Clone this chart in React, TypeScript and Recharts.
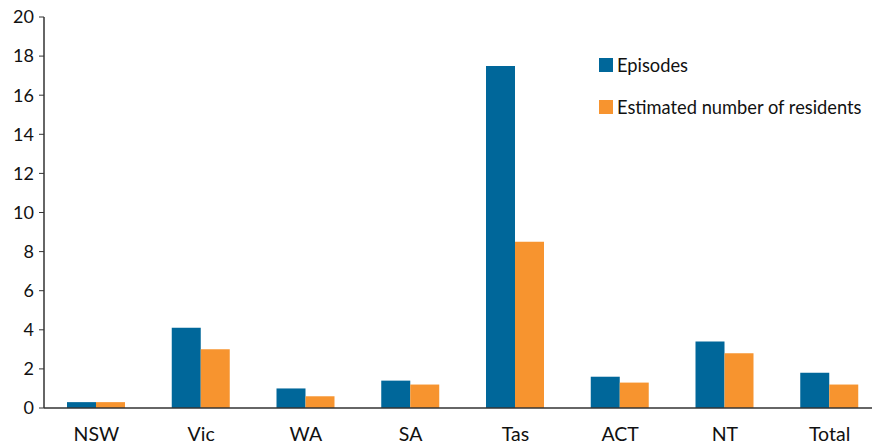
import React from 'react';
import { BarChart, Bar, XAxis, YAxis } from 'recharts';

const states = ['NSW', 'Vic', 'WA', 'SA', 'Tas', 'ACT', 'NT', 'Total'];
const episodes = [0.3, 4.1, 1.0, 1.4, 17.5, 1.6, 3.4, 1.8];
const residents = [0.3, 3.0, 0.6, 1.2, 8.5, 1.3, 2.8, 1.2];
const yTicks = [0, 2, 4, 6, 8, 10, 12, 14, 16, 18, 20];

const BLUE = '#00679a';
const ORANGE = '#f7942f';
const FONT = 'Lato, "Open Sans", sans-serif';

const data = states.map((state, i) => ({
  state,
  episodes: episodes[i],
  residents: residents[i],
}));

const legendItems = [
  { label: 'Episodes', color: BLUE },
  { label: 'Estimated number of residents', color: ORANGE },
];

const App = () => {
  return (
    <div style={{ position: 'absolute', left: 0, top: 0, width: 872, height: 446, overflow: 'hidden', background: '#fff' }}>
      {/* plot runs a little past the right edge, the frame crops it */}
      <BarChart
        width={882}
        height={446}
        data={data}
        margin={{ top: 17, right: 0, left: 0, bottom: 0 }}
        barGap={0}
        barSize={29}
      >
        <XAxis
          dataKey="state"
          height={38}
          tickLine={false}
          tickSize={0}
          tickMargin={19}
          axisLine={{ stroke: '#333', strokeWidth: 1.5 }}
          tick={{ fill: '#111', fontSize: 19.5, fontFamily: FONT }}
        />
        <YAxis
          width={44}
          domain={[0, 20]}
          ticks={yTicks}
          interval={0}
          tickSize={5}
          tickMargin={5}
          axisLine={{ stroke: '#333', strokeWidth: 1.5 }}
          tickLine={{ stroke: '#333' }}
          tick={{ fill: '#111', fontSize: 18, fontFamily: FONT }}
        />
        <Bar dataKey="episodes" name="Episodes" fill={BLUE} isAnimationActive={false} />
        <Bar dataKey="residents" name="Estimated number of residents" fill={ORANGE} isAnimationActive={false} />
      </BarChart>
      <div style={{ position: 'absolute', left: 599, top: 54, fontFamily: FONT, fontSize: 18.3, color: '#111' }}>
        {legendItems.map((item, i) => (
          <div key={i} style={{ display: 'flex', alignItems: 'center', height: 22, marginBottom: i === 0 ? 20 : 0 }}>
            <span style={{ width: 14, height: 14, background: item.color, marginRight: 4, display: 'inline-block' }} />
            <span>{item.label}</span>
          </div>
        ))}
      </div>
    </div>
  );
};

export default App;
